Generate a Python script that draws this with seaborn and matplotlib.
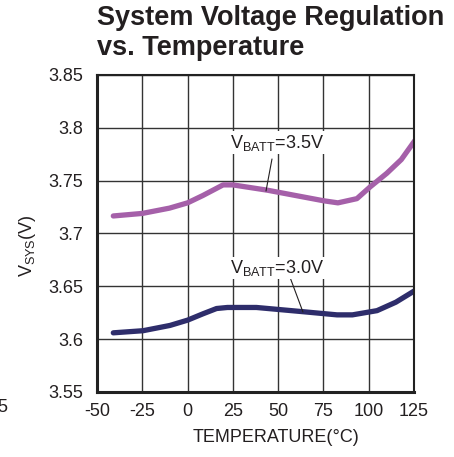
import pandas as pd
import seaborn as sns
import matplotlib.pyplot as plt

# data
temp_35 = [-41, -25, -10, 0, 8.5, 19.6, 25, 44, 75, 83, 93.5, 100.7, 110, 118, 125.5]
vsys_35 = [3.7166, 3.719, 3.724, 3.729, 3.736, 3.746, 3.746, 3.741, 3.731, 3.729, 3.733, 3.744, 3.757, 3.77, 3.788]
temp_30 = [-41, -24.6, -9.7, 0, 8.5, 16, 22, 38, 63.7, 82.5, 91, 104.6, 115, 125.5]
vsys_30 = [3.606, 3.608, 3.613, 3.618, 3.624, 3.629, 3.630, 3.630, 3.626, 3.623, 3.623, 3.627, 3.635, 3.646]

x_ticks = [-50, -25, 0, 25, 50, 75, 100, 125]
y_ticks = [3.55, 3.6, 3.65, 3.7, 3.75, 3.8, 3.85]
y_tick_labels = ['3.55', '3.6', '3.65', '3.7', '3.75', '3.8', '3.85']

df = pd.concat([
    pd.DataFrame({'temp': temp_35, 'vsys': vsys_35, 'vbatt': '3.5V'}),
    pd.DataFrame({'temp': temp_30, 'vsys': vsys_30, 'vbatt': '3.0V'}),
])

sns.set_style('white')
plt.rcParams['font.family'] = ['Liberation Sans', 'DejaVu Sans']
plt.rcParams['mathtext.fontset'] = 'custom'
plt.rcParams['mathtext.rm'] = 'Liberation Sans'
plt.rcParams['axes.unicode_minus'] = False
txt = '#231f20'

fig = plt.figure(figsize=(4.54, 4.57), dpi=100)
ax = fig.add_axes([97 / 454, 65 / 457, 317 / 454, 317 / 457])

sns.lineplot(data=df, x='temp', y='vsys', hue='vbatt', hue_order=['3.5V', '3.0V'],
             palette=['#a560a9', '#2e2d6b'], linewidth=3.8, legend=False, ax=ax,
             estimator=None, sort=False)

ax.set_xlim(-50, 125)
ax.set_ylim(3.55, 3.85)
ax.set_xticks(x_ticks)
ax.set_yticks(y_ticks)
ax.set_yticklabels(y_tick_labels)
ax.tick_params(length=0, labelsize=13, colors=txt)
ax.tick_params(axis='x', pad=8)
ax.tick_params(axis='y', pad=10)
ax.grid(True, color='#333333', linewidth=1.0)
for s in ax.spines.values():
    s.set_color('#222222')
    s.set_linewidth(1.5)
ax.spines['left'].set_linewidth(2.2)
ax.spines['bottom'].set_linewidth(2.2)
ax.set_xlabel('')
ax.set_ylabel('')

# curve labels with leader lines
ax.text(23.4, 3.781, r'V$_\mathregular{BATT}$=3.5V', fontsize=13, color=txt, va='baseline',
        bbox=dict(facecolor='white', edgecolor='none', pad=1))
ax.plot([46.6, 43.3], [3.7705, 3.7402], color=txt, linewidth=0.8)
ax.text(23.4, 3.6626, r'V$_\mathregular{BATT}$=3.0V', fontsize=13, color=txt, va='baseline',
        bbox=dict(facecolor='white', edgecolor='none', pad=1))
ax.plot([56.5, 63.7], [3.6588, 3.6257], color=txt, linewidth=0.8)

fig.text(17 / 454, 1 - 246 / 457, r'V$_\mathregular{SYS}$(V)', rotation=90, fontsize=13,
         color=txt, ha='left', va='center')
fig.text(276 / 454, 1 - 437 / 457, 'TEMPERATURE(°C)', fontsize=13, color=txt,
         ha='center', va='center')
fig.text(97 / 454, 1 - 25 / 457, 'System Voltage Regulation',
         fontsize=19.5, fontweight='bold', color=txt, ha='left', va='baseline')
fig.text(97 / 454, 1 - 55 / 457, 'vs. Temperature',
         fontsize=19.5, fontweight='bold', color=txt, ha='left', va='baseline')
fig.text(-3 / 454, 1 - 408 / 457, '5', fontsize=13, color=txt, ha='left', va='center')

fig.savefig('out.png', dpi=100)
